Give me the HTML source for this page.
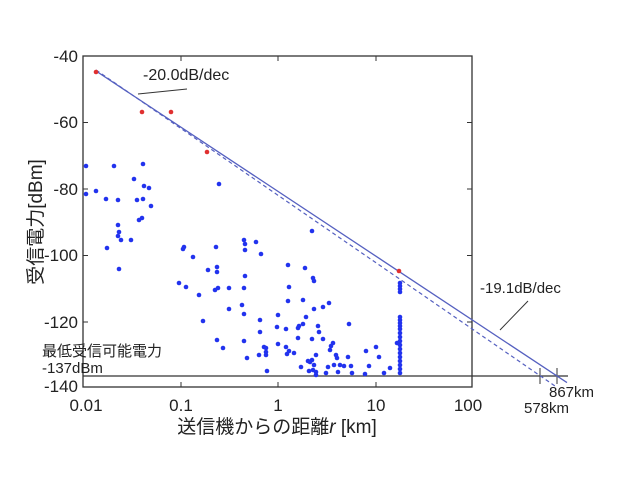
<!DOCTYPE html>
<html><head><meta charset="utf-8"><style>
html,body{margin:0;padding:0;background:#fff;}
svg{display:block;}
text{font-family:"Liberation Sans","Noto Sans CJK JP",sans-serif;fill:#222;}
circle{r:2.3px;}
</style></head><body>
<svg width="623" height="480" viewBox="0 0 623 480" xmlns="http://www.w3.org/2000/svg">
<rect x="83" y="56" width="389" height="331" fill="none" stroke="#333" stroke-width="1.3"/>
<g stroke="#333" stroke-width="1">
<line x1="181" y1="56" x2="181" y2="61"/><line x1="278" y1="56" x2="278" y2="61"/><line x1="376" y1="56" x2="376" y2="61"/>
<line x1="181" y1="387" x2="181" y2="382"/><line x1="278" y1="387" x2="278" y2="382"/><line x1="376" y1="387" x2="376" y2="382"/>
<line x1="83" y1="122.5" x2="88" y2="122.5"/><line x1="83" y1="189" x2="88" y2="189"/><line x1="83" y1="255.5" x2="88" y2="255.5"/><line x1="83" y1="322" x2="88" y2="322"/>
<line x1="472" y1="122.5" x2="467" y2="122.5"/><line x1="472" y1="189" x2="467" y2="189"/><line x1="472" y1="255.5" x2="467" y2="255.5"/><line x1="472" y1="322" x2="467" y2="322"/>
</g>
<g font-size="17" text-anchor="end">
<text x="78" y="62">-40</text><text x="78" y="128">-60</text><text x="78" y="195">-80</text><text x="78" y="261">-100</text><text x="78" y="328">-120</text><text x="78" y="392">-140</text>
</g>
<g font-size="17" text-anchor="middle">
<text x="86" y="411">0.01</text><text x="181" y="411">0.1</text><text x="278" y="411">1</text><text x="376" y="411">10</text><text x="468" y="411">100</text>
</g>
<text x="277" y="433" font-size="19" text-anchor="middle">送信機からの距離<tspan font-style="italic">r</tspan> [km]</text>
<text transform="translate(42,222) rotate(-90)" font-size="19" text-anchor="middle">受信電力[dBm]</text>
<line x1="83" y1="376" x2="568" y2="376" stroke="#333" stroke-width="1.3"/>
<line x1="540" y1="368" x2="540" y2="384" stroke="#333"/>
<line x1="557" y1="368" x2="557" y2="384" stroke="#333"/>
<line x1="96" y1="71" x2="567" y2="382.6" stroke="#5560c0" stroke-width="1.3"/>
<line x1="96" y1="70" x2="555" y2="386" stroke="#5560c0" stroke-width="1.2" stroke-dasharray="4,3"/>
<line x1="138" y1="94" x2="187" y2="89" stroke="#333"/>
<line x1="500" y1="330" x2="528" y2="301" stroke="#333"/>
<text x="143" y="80" font-size="16">-20.0dB/dec</text>
<text x="480" y="293" font-size="15">-19.1dB/dec</text>
<text x="549" y="397" font-size="15">867km</text>
<text x="524" y="413" font-size="15">578km</text>
<text x="42" y="356" font-size="15">最低受信可能電力</text>
<text x="42" y="373" font-size="15">-137dBm</text>
<g fill="#e03030">
<circle cx="96" cy="72" r="2.3"/><circle cx="142" cy="112" r="2.3"/><circle cx="171" cy="112" r="2.3"/><circle cx="207" cy="152" r="2.3"/><circle cx="399" cy="271" r="2.3"/>
</g>
<g fill="#2233ee">
<circle cx="86" cy="166" r="2.3"/><circle cx="86" cy="194" r="2.3"/><circle cx="96" cy="191" r="2.3"/><circle cx="106" cy="199" r="2.3"/><circle cx="114" cy="166" r="2.3"/><circle cx="118" cy="200" r="2.3"/><circle cx="118" cy="225" r="2.3"/><circle cx="119" cy="232" r="2.3"/><circle cx="121" cy="240" r="2.3"/><circle cx="131" cy="240" r="2.3"/><circle cx="134" cy="179" r="2.3"/><circle cx="137" cy="200" r="2.3"/><circle cx="139" cy="220" r="2.3"/><circle cx="142" cy="218" r="2.3"/><circle cx="143" cy="164" r="2.3"/><circle cx="144" cy="186" r="2.3"/><circle cx="143" cy="199" r="2.3"/><circle cx="149" cy="188" r="2.3"/><circle cx="151" cy="206" r="2.3"/><circle cx="118" cy="236" r="2.3"/><circle cx="219" cy="184" r="2.3"/>
<circle cx="107" cy="248" r="2.3"/><circle cx="119" cy="269" r="2.3"/><circle cx="184" cy="247" r="2.3"/><circle cx="183" cy="249" r="2.3"/><circle cx="179" cy="283" r="2.3"/><circle cx="186" cy="287" r="2.3"/><circle cx="193" cy="257" r="2.3"/><circle cx="199" cy="295" r="2.3"/><circle cx="203" cy="321" r="2.3"/><circle cx="208" cy="270" r="2.3"/><circle cx="216" cy="247" r="2.3"/><circle cx="217" cy="267" r="2.3"/><circle cx="217" cy="272" r="2.3"/><circle cx="215" cy="290" r="2.3"/><circle cx="218" cy="288" r="2.3"/><circle cx="217" cy="340" r="2.3"/><circle cx="223" cy="348" r="2.3"/><circle cx="229" cy="309" r="2.3"/><circle cx="229" cy="288" r="2.3"/><circle cx="242" cy="305" r="2.3"/><circle cx="244" cy="240" r="2.3"/><circle cx="245" cy="244" r="2.3"/><circle cx="245" cy="250" r="2.3"/><circle cx="245" cy="276" r="2.3"/><circle cx="244" cy="288" r="2.3"/><circle cx="244" cy="314" r="2.3"/><circle cx="244" cy="341" r="2.3"/><circle cx="247" cy="358" r="2.3"/><circle cx="256" cy="242" r="2.3"/><circle cx="261" cy="254" r="2.3"/><circle cx="260" cy="320" r="2.3"/><circle cx="260" cy="332" r="2.3"/><circle cx="264" cy="347" r="2.3"/><circle cx="266" cy="348" r="2.3"/><circle cx="266" cy="352" r="2.3"/><circle cx="266" cy="355" r="2.3"/><circle cx="259" cy="355" r="2.3"/><circle cx="267" cy="371" r="2.3"/><circle cx="278" cy="315" r="2.3"/><circle cx="277" cy="327" r="2.3"/><circle cx="278" cy="344" r="2.3"/><circle cx="287" cy="354" r="2.3"/><circle cx="288" cy="265" r="2.3"/><circle cx="289" cy="287" r="2.3"/><circle cx="286" cy="329" r="2.3"/><circle cx="288" cy="301" r="2.3"/><circle cx="286" cy="347" r="2.3"/><circle cx="298" cy="328" r="2.3"/><circle cx="299" cy="326" r="2.3"/><circle cx="303" cy="324" r="2.3"/><circle cx="305" cy="268" r="2.3"/><circle cx="303" cy="300" r="2.3"/><circle cx="306" cy="317" r="2.3"/><circle cx="313" cy="278" r="2.3"/><circle cx="314" cy="281" r="2.3"/><circle cx="314" cy="309" r="2.3"/><circle cx="312" cy="339" r="2.3"/><circle cx="312" cy="231" r="2.3"/><circle cx="298" cy="338" r="2.3"/><circle cx="289" cy="351" r="2.3"/><circle cx="294" cy="353" r="2.3"/><circle cx="301" cy="367" r="2.3"/><circle cx="308" cy="361" r="2.3"/><circle cx="312" cy="360" r="2.3"/><circle cx="316" cy="355" r="2.3"/><circle cx="314" cy="365" r="2.3"/><circle cx="316" cy="372" r="2.3"/><circle cx="309" cy="371" r="2.3"/><circle cx="318" cy="326" r="2.3"/><circle cx="319" cy="332" r="2.3"/><circle cx="323" cy="339" r="2.3"/><circle cx="323" cy="307" r="2.3"/><circle cx="329" cy="303" r="2.3"/><circle cx="330" cy="350" r="2.3"/><circle cx="333" cy="343" r="2.3"/><circle cx="336" cy="355" r="2.3"/><circle cx="331" cy="346" r="2.3"/><circle cx="328" cy="367" r="2.3"/><circle cx="334" cy="365" r="2.3"/><circle cx="337" cy="358" r="2.3"/><circle cx="340" cy="365" r="2.3"/><circle cx="344" cy="366" r="2.3"/><circle cx="338" cy="372" r="2.3"/><circle cx="348" cy="357" r="2.3"/><circle cx="349" cy="324" r="2.3"/><circle cx="351" cy="366" r="2.3"/><circle cx="352" cy="373" r="2.3"/><circle cx="366" cy="351" r="2.3"/><circle cx="369" cy="366" r="2.3"/><circle cx="376" cy="347" r="2.3"/><circle cx="379" cy="357" r="2.3"/><circle cx="384" cy="373" r="2.3"/><circle cx="390" cy="368" r="2.3"/><circle cx="365" cy="374" r="2.3"/><circle cx="397" cy="343" r="2.3"/><circle cx="326" cy="373" r="2.3"/><circle cx="316" cy="375" r="2.3"/><circle cx="310" cy="362" r="2.3"/><circle cx="313" cy="370" r="2.3"/>
<circle cx="400" cy="283" r="2.3"/><circle cx="400" cy="286" r="2.3"/><circle cx="400" cy="289" r="2.3"/><circle cx="400" cy="292" r="2.3"/><circle cx="400" cy="317" r="2.3"/><circle cx="400" cy="320" r="2.3"/><circle cx="400" cy="323" r="2.3"/><circle cx="400" cy="326" r="2.3"/><circle cx="400" cy="329" r="2.3"/><circle cx="400" cy="333" r="2.3"/><circle cx="400" cy="337" r="2.3"/><circle cx="400" cy="341" r="2.3"/><circle cx="400" cy="345" r="2.3"/><circle cx="400" cy="349" r="2.3"/><circle cx="400" cy="353" r="2.3"/><circle cx="400" cy="357" r="2.3"/><circle cx="400" cy="361" r="2.3"/><circle cx="400" cy="365" r="2.3"/><circle cx="400" cy="369" r="2.3"/><circle cx="400" cy="373" r="2.3"/>
</g>
</svg>
</body></html>
